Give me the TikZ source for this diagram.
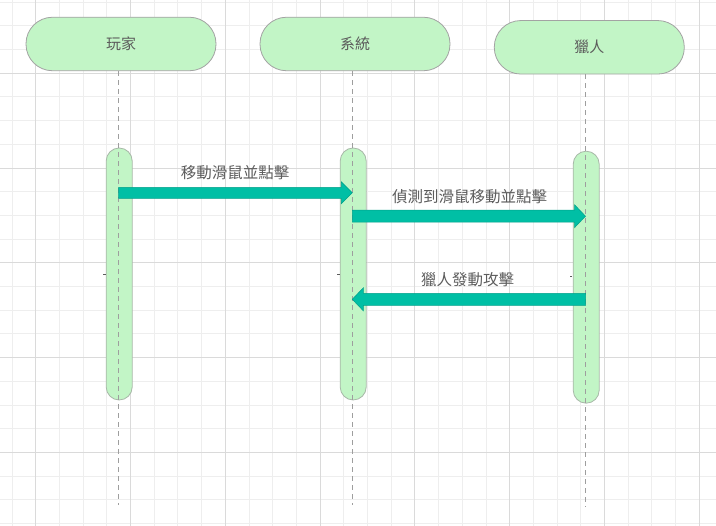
\documentclass[tikz,border=0pt]{standalone}
\usepackage{fontspec}
\newfontfamily\cjk{Noto Sans CJK TC}
\usetikzlibrary{calc}
\definecolor{gridminor}{HTML}{EEEEEE}
\definecolor{gridmajor}{HTML}{DADADA}
\definecolor{pillfill}{HTML}{C2F5C6}
\definecolor{pilledge}{HTML}{A3A3A3}
\definecolor{barfill}{HTML}{C2F5C6}
\definecolor{baredge}{HTML}{A8B8A8}
\definecolor{teal}{HTML}{00BFA5}
\definecolor{tealedge}{HTML}{00A08A}
\definecolor{lifec}{HTML}{9E9E9E}
\definecolor{txt}{HTML}{5C5C5C}
\tikzset{
  pill/.style={draw=pilledge, fill=pillfill, line width=0.8pt, rounded corners=26.5pt,
    minimum width=190pt, minimum height=53.5pt, inner sep=0pt,
    font=\cjk\fontsize{15pt}{18pt}\selectfont, text=txt},
  actbar/.style={draw=baredge, fill=barfill, line width=0.8pt, rounded corners=13pt,
    minimum width=26pt, minimum height=252pt, inner sep=0pt},
  lifeline/.style={draw=lifec, line width=1.2pt, dash pattern=on 5pt off 4pt},
  msgarrow/.style={fill=teal, draw=tealedge, line width=0.5pt},
  msglabel/.style={font=\cjk\fontsize{15.5pt}{18pt}\selectfont, text=txt, inner sep=0pt},
  tickmark/.style={draw=txt, line width=1pt}
}
\begin{document}
\begin{tikzpicture}[x=1pt,y=-1pt]
\useasboundingbox (0,0) rectangle (716,526);
\fill[white] (0,0) rectangle (716,526);
% grid
\foreach \i in {0,...,29} {
  \pgfmathsetmacro{\gx}{12+23.7*\i}
  \draw[gridminor, line width=1pt] (\gx,0) -- (\gx,526);
}
\foreach \i in {0,...,22} {
  \pgfmathsetmacro{\gy}{2.2+23.7*\i}
  \draw[gridminor, line width=1pt] (0,\gy) -- (716,\gy);
}
\foreach \i in {0,...,7} {
  \pgfmathsetmacro{\gx}{35.7+94.8*\i}
  \draw[gridmajor, line width=1pt] (\gx,0) -- (\gx,526);
}
\foreach \i in {0,...,4} {
  \pgfmathsetmacro{\gy}{73.3+94.8*\i}
  \draw[gridmajor, line width=1pt] (0,\gy) -- (716,\gy);
}
% headers
\node[pill] (p1) at (121,44) {玩家};
\node[pill] (p2) at (355,44) {系統};
\node[pill] (p3) at (589.3,47.3) {獵人};
% activation bars
\node[actbar] (b1) at (119.2,274) {};
\node[actbar] (b2) at (353.2,274) {};
\node[actbar] (b3) at (586.2,277.2) {};
% lifeline ends
\coordinate (l1) at (118.7,505);
\coordinate (l2) at (352.7,505);
\coordinate (l3) at (585.5,507);
\draw[lifeline] (p1.south -| l1) -- (l1);
\draw[lifeline] (p2.south -| l2) -- (l2);
\draw[lifeline] (p3.south -| l3) -- (l3);
% tiny marks
\coordinate (t1) at (103.3,274.3);
\coordinate (t2) at (337.3,274.3);
\coordinate (t3) at (570,276.7);
\draw[tickmark] (t1) -- ++(2.2,0);
\draw[tickmark] (t2) -- ++(2.2,0);
\draw[tickmark] (t3) -- ++(2.4,0);
% message arrows
\coordinate (m1s) at (118.7,192.8);
\coordinate (m1e) at (352.3,192.8);
\coordinate (m2s) at (352.3,216.2);
\coordinate (m2e) at (585.5,216.2);
\coordinate (m3s) at (585.5,299.3);
\coordinate (m3e) at (352.3,299.3);
\draw[msgarrow] ($(m1s)+(0,-5.5)$) -- ($(m1e)+(-11,-5.5)$) -- ($(m1e)+(-11,-11)$) -- (m1e)
  -- ($(m1e)+(-11,11)$) -- ($(m1e)+(-11,5.5)$) -- ($(m1s)+(0,5.5)$) -- cycle;
\draw[msgarrow] ($(m2s)+(0,-6)$) -- ($(m2e)+(-11,-6)$) -- ($(m2e)+(-11,-11.5)$) -- (m2e)
  -- ($(m2e)+(-11,11.5)$) -- ($(m2e)+(-11,6)$) -- ($(m2s)+(0,6)$) -- cycle;
\draw[msgarrow] ($(m3s)+(0,-6)$) -- ($(m3e)+(11,-6)$) -- ($(m3e)+(11,-11.5)$) -- (m3e)
  -- ($(m3e)+(11,11.5)$) -- ($(m3e)+(11,6)$) -- ($(m3s)+(0,6)$) -- cycle;
% labels
\node[msglabel] (lab1) at (235,172.7) {移動滑鼠並點擊};
\node[msglabel] (lab2) at (469.5,196.7) {偵測到滑鼠移動並點擊};
\node[msglabel] (lab3) at (467.7,280) {獵人發動攻擊};
\end{tikzpicture}
\end{document}
